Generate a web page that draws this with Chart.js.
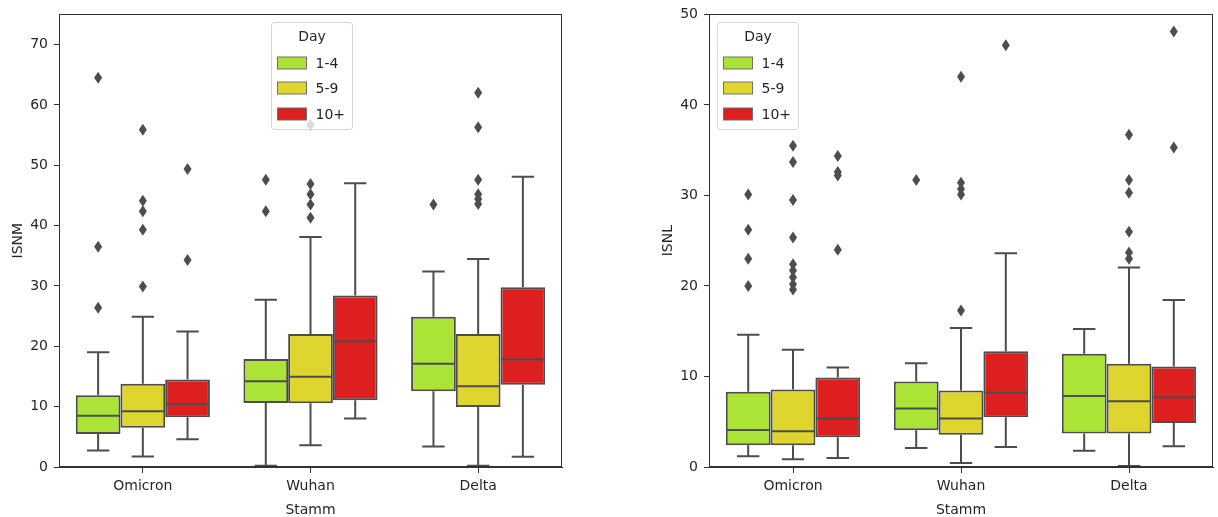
<!DOCTYPE html>
<html>
<head>
<meta charset="utf-8">
<script src="https://cdn.jsdelivr.net/npm/chart.js@4/dist/chart.umd.min.js"></script>
<style>
  body { margin: 0; background: #fff; width: 1218px; height: 517px; overflow: hidden; position: relative; }
  canvas { position: absolute; top: 0; }
  #isnmChart { left: 0; }
  #isnlChart { left: 650px; }
</style>
</head>
<body>
<canvas id="isnmChart" width="600" height="517"></canvas>
<canvas id="isnlChart" width="568" height="517"></canvas>
<script>
// categorie e gruppi
const strains = ["Omicron", "Wuhan", "Delta"];
const dayGroups = ["1-4", "5-9", "10+"];
const boxColors = ["#abe436", "#dfd52f", "#dd1f1f"];

// ISNM: una riga per gruppo di giorni, una colonna per ceppo
const isnmLow = [[2.75, 0.2, 3.4], [1.75, 3.6, 0.2], [4.6, 8.05, 1.7]];
const isnmQ1 = [[5.45, 10.6, 12.55], [6.5, 10.55, 9.95], [8.25, 11.05, 13.65]];
const isnmMedian = [[8.5, 14.2, 17.1], [9.25, 14.95, 13.4], [10.45, 20.85, 17.8]];
const isnmQ3 = [[11.9, 17.9, 24.9], [13.8, 22.05, 22.05], [14.5, 28.4, 29.8]];
const isnmHigh = [[19.0, 27.7, 32.4], [24.9, 38.1, 34.45], [22.45, 47.0, 48.1]];
const isnmOutliers = [
  [[64.5, 36.5, 26.4], [47.6, 42.4], [43.5]],
  [[55.9, 44.1, 42.4, 39.3, 29.9], [56.7, 46.9, 45.2, 43.5, 41.3], [62.0, 56.3, 47.6, 45.2, 44.4, 43.6]],
  [[49.4, 34.3], [], []]
];

// ISNL
const isnlLow = [[1.2, 2.1, 1.8], [0.85, 0.45, 0.1], [1.0, 2.2, 2.3]];
const isnlQ1 = [[2.4, 4.05, 3.7], [2.4, 3.55, 3.7], [3.3, 5.5, 4.85]];
const isnlMedian = [[4.1, 6.45, 7.85], [3.95, 5.35, 7.25], [5.35, 8.2, 7.7]];
const isnlQ3 = [[8.3, 9.45, 12.5], [8.55, 8.45, 11.4], [9.9, 12.8, 11.1]];
const isnlHigh = [[14.6, 11.45, 15.25], [12.95, 15.35, 22.05], [11.0, 23.6, 18.45]];
const isnlOutliers = [
  [[30.1, 26.2, 23.0, 20.0], [31.7], []],
  [[35.5, 33.7, 29.5, 25.35, 22.4, 21.7, 20.95, 20.2, 19.6], [43.1, 31.4, 30.7, 30.1, 17.3], [36.7, 31.7, 30.3, 26.0, 23.7, 23.0]],
  [[34.35, 32.6, 32.2, 24.0], [46.6], [48.1, 35.3]]
];

const edgeColor = "#4d4d4d";
const textColor = "#262626";
const axisColor = "#333333";

Chart.defaults.font.family = "'DejaVu Sans', sans-serif";
Chart.defaults.font.size = 14;
Chart.defaults.color = textColor;

function drawLegend(chart, offsetX) {
  const ctx = chart.ctx;
  const x0 = Math.round(chart.chartArea.left + offsetX) + 0.5;
  const y0 = Math.round(chart.chartArea.top + 8) + 0.5;
  const w = 81, h = 107;
  ctx.save();
  ctx.beginPath();
  ctx.roundRect(x0, y0, w, h, 3);
  ctx.fillStyle = "rgba(255,255,255,0.8)";
  ctx.fill();
  ctx.strokeStyle = "#d6d6d6";
  ctx.lineWidth = 1;
  ctx.stroke();
  ctx.font = "14px 'DejaVu Sans'";
  ctx.textBaseline = "middle";
  ctx.textAlign = "center";
  ctx.fillStyle = textColor;
  ctx.fillText("Day", x0 + w / 2, y0 + 15);
  dayGroups.forEach((d, i) => {
    const cy = Math.round(y0 + 40 + i * 25.7);
    ctx.fillStyle = boxColors[i];
    ctx.fillRect(x0 + 6, cy - 6, 29, 12);
    ctx.strokeStyle = "#707070";
    ctx.strokeRect(x0 + 6, cy - 6, 29, 12);
    ctx.fillStyle = textColor;
    ctx.textAlign = "left";
    ctx.fillText(d, x0 + 44, cy + 1);
  });
  ctx.restore();
}

function makeBoxChart(canvasId, yTitle, yMax, st, legendX, padRight) {
  const boxExtras = {
    id: "boxExtras",
    afterDatasetsDraw(chart) {
      const ctx = chart.ctx;
      const y = chart.scales.y;
      ctx.save();
      ctx.strokeStyle = edgeColor;
      ctx.fillStyle = edgeColor;
      ctx.lineWidth = 2;
      chart.data.datasets.forEach((ds, i) => {
        chart.getDatasetMeta(i).data.forEach((bar, j) => {
          const cx = bar.x;
          const half = bar.width / 2;
          const yMed = y.getPixelForValue(st.median[i][j]);
          const yQ1 = y.getPixelForValue(st.q1[i][j]);
          const yQ3 = y.getPixelForValue(st.q3[i][j]);
          const yLo = y.getPixelForValue(st.low[i][j]);
          const yHi = y.getPixelForValue(st.high[i][j]);
          ctx.beginPath();
          ctx.moveTo(cx - half + 1, yMed); ctx.lineTo(cx + half - 1, yMed);
          ctx.moveTo(cx, yQ3); ctx.lineTo(cx, yHi);
          ctx.moveTo(cx - half / 2, yHi); ctx.lineTo(cx + half / 2, yHi);
          ctx.moveTo(cx, yQ1); ctx.lineTo(cx, yLo);
          ctx.moveTo(cx - half / 2, yLo); ctx.lineTo(cx + half / 2, yLo);
          ctx.stroke();
          st.outliers[i][j].forEach(v => {
            const py = y.getPixelForValue(v);
            ctx.beginPath();
            ctx.moveTo(cx, py - 6);
            ctx.lineTo(cx + 4, py);
            ctx.lineTo(cx, py + 6);
            ctx.lineTo(cx - 4, py);
            ctx.closePath();
            ctx.fill();
          });
        });
      });
      ctx.restore();
    },
    afterDraw(chart) {
      const a = chart.chartArea;
      const ctx = chart.ctx;
      ctx.save();
      ctx.strokeStyle = axisColor;
      ctx.lineWidth = 1;
      ctx.strokeRect(Math.round(a.left) + 0.5, Math.round(a.top) + 0.5,
        Math.round(a.right - a.left) - 1, Math.round(a.bottom - a.top) - 1);
      ctx.restore();
      drawLegend(chart, legendX);
    }
  };

  return new Chart(document.getElementById(canvasId), {
    type: "bar",
    data: {
      labels: strains,
      datasets: dayGroups.map((d, i) => ({
        label: d,
        data: strains.map((s, j) => [st.q1[i][j], st.q3[i][j]]),
        backgroundColor: boxColors[i],
        borderColor: edgeColor,
        borderWidth: 2,
        borderSkipped: false,
        categoryPercentage: 0.8,
        barPercentage: 1.0
      }))
    },
    options: {
      responsive: false,
      animation: false,
      layout: { padding: { top: 13, right: padRight, bottom: 0, left: 0 } },
      plugins: { legend: { display: false }, tooltip: { enabled: false } },
      scales: {
        x: {
          offset: true,
          grid: { offset: false, drawOnChartArea: false, tickLength: 6, tickColor: axisColor },
          border: { color: axisColor },
          ticks: { padding: 5, color: textColor },
          title: { display: true, text: "Stamm", color: textColor, padding: 0, font: { lineHeight: 1 } },
          afterFit: s => { s.height = 50; }
        },
        y: {
          min: 0,
          max: yMax,
          grid: { drawOnChartArea: false, tickLength: 5, tickColor: axisColor },
          border: { color: axisColor },
          ticks: { stepSize: 10, padding: 6, color: textColor },
          afterBuildTicks: s => { s.ticks = s.ticks.filter(t => t.value % 10 === 0); },
          title: { display: true, text: yTitle, color: textColor, padding: { top: 11, bottom: 0 }, font: { lineHeight: 1 } },
          afterFit: s => { s.width = 59; }
        }
      }
    },
    plugins: [boxExtras]
  });
}

makeBoxChart("isnmChart", "ISNM", 75, {
  low: isnmLow, q1: isnmQ1, median: isnmMedian, q3: isnmQ3, high: isnmHigh, outliers: isnmOutliers
}, 212, 38);

makeBoxChart("isnlChart", "ISNL", 50, {
  low: isnlLow, q1: isnlQ1, median: isnlMedian, q3: isnlQ3, high: isnlHigh, outliers: isnlOutliers
}, 8, 5);
</script>
</body>
</html>
